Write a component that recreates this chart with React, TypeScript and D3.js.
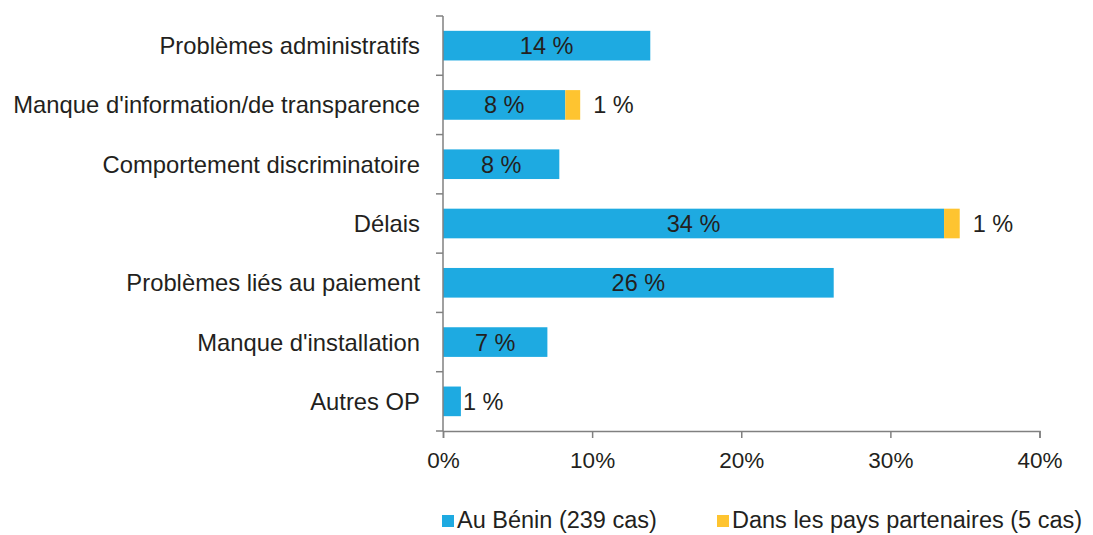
import React, { useRef, useEffect } from 'react';
import * as d3 from 'd3';

const categories = [
  'Problèmes administratifs',
  "Manque d'information/de transparence",
  'Comportement discriminatoire',
  'Délais',
  'Problèmes liés au paiement',
  "Manque d'installation",
  'Autres OP',
];
const benin = [13.9, 8.2, 7.8, 33.6, 26.2, 7.0, 1.2];
const beninLabels = ['14 %', '8 %', '8 %', '34 %', '26 %', '7 %', '1 %'];
const partenaires = [0, 1.0, 0, 1.05, 0, 0, 0];
const partenairesLabels = ['', '1 %', '', '1 %', '', '', ''];
const xTicks = [0, 10, 20, 30, 40];
const seriesNames = ['Au Bénin (239 cas)', 'Dans les pays partenaires (5 cas)'];
const colors = ['#1eaae1', '#fec430'];

const App = () => {
  const ref = useRef<SVGSVGElement>(null);

  useEffect(() => {
    const width = 1093;
    const height = 535;
    const font = 'Liberation Sans, Arial, sans-serif';
    const textColor = '#231f20';
    const axisColor = '#808080';

    const svg = d3.select(ref.current);
    svg.selectAll('*').remove();
    svg.attr('width', width).attr('height', height);

    const x = d3.scaleLinear().domain([0, 40]).range([443, 1039.5]);
    const y = d3
      .scaleBand()
      .domain(categories)
      .range([16, 431])
      .paddingInner(0.5)
      .paddingOuter(0.25);

    const g = svg.append('g');

    // bars
    g.selectAll('rect.benin')
      .data(categories)
      .join('rect')
      .attr('class', 'benin')
      .attr('x', x(0))
      .attr('y', (d) => y(d)!)
      .attr('width', (_, i) => x(benin[i]) - x(0))
      .attr('height', y.bandwidth())
      .attr('fill', colors[0]);

    g.selectAll('rect.part')
      .data(categories)
      .join('rect')
      .attr('class', 'part')
      .attr('x', (_, i) => x(benin[i]))
      .attr('y', (d) => y(d)!)
      .attr('width', (_, i) => x(benin[i] + partenaires[i]) - x(benin[i]))
      .attr('height', y.bandwidth())
      .attr('fill', colors[1]);

    // value labels
    g.selectAll('text.vb')
      .data(categories)
      .join('text')
      .attr('class', 'vb')
      .attr('x', (_, i) =>
        benin[i] < 3 ? x(benin[i]) + 2 : (x(0) + x(benin[i])) / 2
      )
      .attr('y', (d) => y(d)! + y.bandwidth() / 2)
      .attr('dy', '0.36em')
      .attr('text-anchor', (_, i) => (benin[i] < 3 ? 'start' : 'middle'))
      .attr('font-family', font)
      .attr('font-size', 23.5)
      .attr('fill', textColor)
      .text((_, i) => beninLabels[i]);

    g.selectAll('text.vp')
      .data(categories)
      .join('text')
      .attr('class', 'vp')
      .attr('x', (_, i) => x(benin[i] + partenaires[i]) + 13)
      .attr('y', (d) => y(d)! + y.bandwidth() / 2)
      .attr('dy', '0.36em')
      .attr('font-family', font)
      .attr('font-size', 23.5)
      .attr('fill', textColor)
      .text((_, i) => partenairesLabels[i]);

    // y axis
    const step = y.step();
    const yTickPos = d3.range(categories.length + 1).map((i) => 16 + i * step);
    g.append('line')
      .attr('x1', x(0))
      .attr('x2', x(0))
      .attr('y1', 16)
      .attr('y2', 431)
      .attr('stroke', axisColor)
      .attr('stroke-width', 1.5);
    g.selectAll('line.yt')
      .data(yTickPos)
      .join('line')
      .attr('class', 'yt')
      .attr('x1', x(0) - 7)
      .attr('x2', x(0))
      .attr('y1', (d) => d)
      .attr('y2', (d) => d)
      .attr('stroke', axisColor)
      .attr('stroke-width', 1.5);
    g.selectAll('text.cat')
      .data(categories)
      .join('text')
      .attr('class', 'cat')
      .attr('x', 420)
      .attr('y', (d) => y(d)! + y.bandwidth() / 2)
      .attr('dy', '0.36em')
      .attr('text-anchor', 'end')
      .attr('font-family', font)
      .attr('font-size', 23.8)
      .attr('fill', textColor)
      .text((d) => d);

    // x axis
    const xAxis = g
      .append('g')
      .attr('transform', `translate(0, 431)`)
      .call(
        d3
          .axisBottom(x)
          .tickValues(xTicks)
          .tickSize(7)
          .tickPadding(14)
          .tickFormat((d) => `${d}%`)
      );
    xAxis.select('.domain').attr('stroke', axisColor).attr('stroke-width', 1.5);
    xAxis.selectAll('.tick line').attr('stroke', axisColor).attr('stroke-width', 1.5);
    xAxis
      .selectAll('.tick text')
      .attr('fill', textColor)
      .attr('font-family', font)
      .attr('font-size', 22.5);

    // legend
    const legendX = [442, 717];
    const legend = g
      .selectAll('g.leg')
      .data(seriesNames)
      .join('g')
      .attr('class', 'leg')
      .attr('transform', (_, i) => `translate(${legendX[i]}, 520)`);
    legend
      .append('rect')
      .attr('x', 0)
      .attr('y', -5)
      .attr('width', 12)
      .attr('height', 12)
      .attr('fill', (_, i) => colors[i]);
    legend
      .append('text')
      .attr('x', 15)
      .attr('dy', '0.36em')
      .attr('font-family', font)
      .attr('font-size', 23.5)
      .attr('fill', textColor)
      .text((d) => d);
  }, []);

  return (
    <svg
      ref={ref}
      style={{ position: 'absolute', left: 0, top: 0, background: '#fff' }}
    />
  );
};

export default App;
